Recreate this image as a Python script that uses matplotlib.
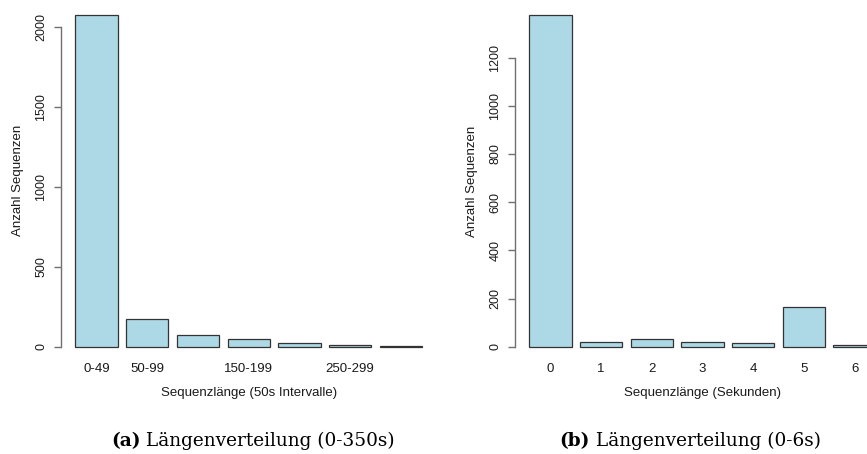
import matplotlib
matplotlib.use("Agg")
import matplotlib.pyplot as plt

# Sequence length distribution, 50 s bins (0-350 s)
bins_50s = ["0-49", "50-99", "100-149", "150-199", "200-249", "250-299", "300-349"]
counts_50s = [2075, 174, 72, 45, 22, 7, 3]
# bin labels that fit under the bars without overlapping
shown_50s = ["0-49", "50-99", "", "150-199", "", "250-299", ""]
yticks_50s = [0, 500, 1000, 1500, 2000]

# Sequence length distribution, 1 s bins (0-6 s)
bins_sec = ["0", "1", "2", "3", "4", "5", "6"]
counts_sec = [1377, 18, 34, 21, 17, 163, 9]
yticks_sec = [0, 200, 400, 600, 800, 1000, 1200]

BAR_FACE = "#ADD8E6"
BAR_EDGE = "#333333"
AXIS_COL = "#707070"
TEXT_COL = "#1a1a1a"
SANS = "Liberation Sans"
SERIF = "DejaVu Serif"

W, H = 867, 454
fig = plt.figure(figsize=(W / 100, H / 100), dpi=100)


def px_axes(left, top, right, bottom):
    return fig.add_axes([left / W, 1 - bottom / H, (right - left) / W, (bottom - top) / H])


def barplot(ax, cats, values, labels, yticks, xlabel):
    n = len(values)
    # bar layout: width 1, gap 0.2 between bars
    centers = [0.7 + 1.2 * i for i in range(n)]
    ax.bar(centers, values, width=1.0, color=BAR_FACE, edgecolor=BAR_EDGE,
           linewidth=0.9)
    lo, hi = 0.2, 0.2 + 1.2 * (n - 1) + 1.0
    pad = 0.04 * (hi - lo)
    ax.set_xlim(lo - pad, hi + pad)
    top = max(values)
    ax.set_ylim(-0.04 * top, 1.04 * top)

    for s in ("top", "right", "bottom"):
        ax.spines[s].set_visible(False)
    ax.spines["left"].set_color(AXIS_COL)
    ax.spines["left"].set_linewidth(1.0)
    ax.spines["left"].set_bounds(yticks[0], yticks[-1])

    ax.set_yticks(yticks)
    ax.set_yticklabels([str(v) for v in yticks], rotation=90, va="center",
                       fontsize=9, family=SANS, color=TEXT_COL)
    ax.tick_params(axis="y", length=5, width=1.0, color=AXIS_COL, pad=5)

    ax.set_xticks(centers)
    ax.set_xticklabels(labels, fontsize=9.5, family=SANS, color=TEXT_COL)
    ax.tick_params(axis="x", length=0, pad=2)

    ax.set_xlabel(xlabel, fontsize=9.5, family=SANS, color=TEXT_COL, labelpad=9)
    ax.set_ylabel("Anzahl Sequenzen", fontsize=9.5, family=SANS, color=TEXT_COL,
                  labelpad=8)
    ax.patch.set_alpha(0)


ax1 = px_axes(61.4, 1.8, 435.9, 359.8)
barplot(ax1, bins_50s, counts_50s, shown_50s, yticks_50s,
        "Sequenzlänge (50s Intervalle)")

ax2 = px_axes(515.4, 1.8, 889.6, 360.0)
barplot(ax2, bins_sec, counts_sec, bins_sec, yticks_sec,
        "Sequenzlänge (Sekunden)")


def caption(cx, baseline, tag, text, size=13.3):
    """Sub-figure caption: bold tag followed by regular text, centred at cx."""
    y = 1 - baseline / H
    t1 = fig.text(0, y, tag, family=SERIF, weight="bold", size=size,
                  va="baseline", color="black")
    t2 = fig.text(0, y, " " + text, family=SERIF, size=size,
                  va="baseline", color="black")
    fig.canvas.draw()
    r = fig.canvas.get_renderer()
    w1 = t1.get_window_extent(r).width
    w2 = t2.get_window_extent(r).width
    start = cx - (w1 + w2) / 2
    t1.set_x(start / W)
    t2.set_x((start + w1) / W)


caption(253, 446, "(a)", "Längenverteilung (0-350s)")
caption(690, 446, "(b)", "Längenverteilung (0-6s)")

fig.savefig("out.png", dpi=100)
